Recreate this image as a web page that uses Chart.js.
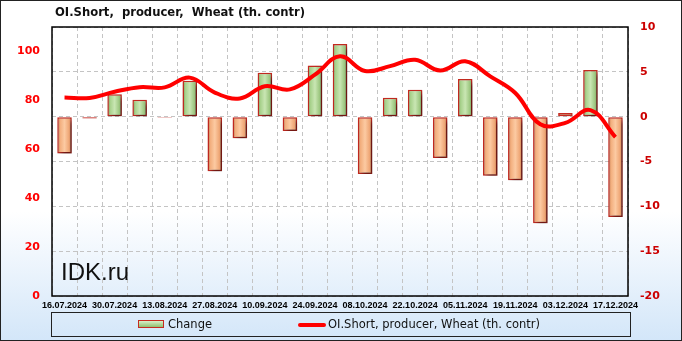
<!DOCTYPE html>
<html lang="en">
<head>
<meta charset="UTF-8">
<title>OI.Short, producer, Wheat</title>
<style>
  html, body { margin: 0; padding: 0; }
  body {
    width: 682px; height: 341px; overflow: hidden;
    background: linear-gradient(to bottom, #ffffff 0%, #ffffff 62%, #d3e6f9 100%);
    font-family: "DejaVu Sans", sans-serif;
  }
  #wrap {
    position: relative; width: 680px; height: 339px;
    border: 1px solid #222;
  }
  canvas { position: absolute; left: -1px; top: -1px; }
  #title {
    position: absolute; left: 54px; top: 4px;
    font: bold 11.6px "DejaVu Sans", sans-serif; white-space: pre; color: #111;
  }
  #brand {
    position: absolute; left: 60px; top: 257px;
    font: 24px "Liberation Sans", Arial, sans-serif; color: #111;
  }
  #legend {
    position: absolute; left: 50px; top: 311px; width: 578px; height: 23px;
    border: 1px solid #222;
    font: 11.5px "DejaVu Sans", sans-serif; color: #111;
  }
  .item { position: absolute; top: 4px; white-space: pre; }
  .sw-bar {
    position: absolute; left: 86px; top: 7px; width: 24px; height: 6px;
    border: 1.5px solid #c62a20;
    background: linear-gradient(to bottom, #d9efc8, #8fbf70);
  }
  .sw-line {
    position: absolute; left: 246px; top: 10px; width: 28px; height: 4px;
    background: #ff0000; border-radius: 2px;
  }
</style>
</head>
<body>
<div id="wrap">
  <canvas id="chart" width="682" height="341"></canvas>
  <div id="title">OI.Short,  producer,  Wheat (th. contr)</div>
  <div id="brand">IDK.ru</div>
  <div id="legend">
    <span class="sw-bar"></span><span class="item" style="left:116px">Change</span>
    <span class="sw-line"></span><span class="item" style="left:276px">OI.Short, producer, Wheat (th. contr)</span>
  </div>
</div>

<script src="https://cdn.jsdelivr.net/npm/chart.js"></script>
<script>
  // report dates (weekly)
  const dates = ['16.07.2024','23.07.2024','30.07.2024','06.08.2024','13.08.2024','20.08.2024',
                 '27.08.2024','03.09.2024','10.09.2024','17.09.2024','24.09.2024','01.10.2024',
                 '08.10.2024','15.10.2024','22.10.2024','29.10.2024','05.11.2024','12.11.2024',
                 '19.11.2024','26.11.2024','03.12.2024','10.12.2024','17.12.2024'];

  // weekly change (right axis)
  const changeValues = [-4.1, -0.2, 2.5, 1.9, -0.1, 4.0, -6.1, -2.4, 4.9, -1.6, 5.7, 8.1,
                        -6.4, 2.1, 3.0, -4.6, 4.2, -6.6, -7.1, -11.9, 0.4, 5.2, -11.2];

  // open interest short, producer (left axis)
  const oiValues = [81.2, 81.0, 83.5, 85.4, 85.3, 89.3, 83.2, 80.8, 85.8, 84.5, 90.5, 98.0,
                    92.0, 94.0, 96.6, 92.2, 96.0, 89.8, 83.0, 70.2, 70.8, 76.0, 65.0];

  const leftTicks  = { min: 0, max: 110, step: 20, shownMax: 100 };
  const rightTicks = { min: -20, max: 10, step: 5 };

  function barFill(c) {
    const el = c.element;
    const pos = c.raw >= 0;
    if (!el || !isFinite(el.x) || !el.width) return pos ? '#a9d18e' : '#f4b183';
    const x0 = el.x - el.width / 2, x1 = el.x + el.width / 2;
    const g = c.chart.ctx.createLinearGradient(x0, 0, x1, 0);
    if (pos) {
      g.addColorStop(0, '#5f8a45');
      g.addColorStop(0.18, '#a6d08a');
      g.addColorStop(0.5, '#c9e6b3');
      g.addColorStop(0.82, '#9cc67f');
      g.addColorStop(1, '#6c9652');
    } else {
      g.addColorStop(0, '#9a5a38');
      g.addColorStop(0.18, '#f2ad7c');
      g.addColorStop(0.5, '#fccaa2');
      g.addColorStop(0.82, '#eea574');
      g.addColorStop(1, '#a8643f');
    }
    return g;
  }

  // shadow under the bars + frame around the plot
  const decor = {
    id: 'decor',
    beforeDatasetDraw(chart, args) {
      if (args.meta.type !== 'bar') return;
      const ctx = chart.ctx;
      ctx.save();
      ctx.shadowColor = 'rgba(0,0,0,0.55)';
      ctx.shadowBlur = 5;
      ctx.shadowOffsetX = 3;
      ctx.shadowOffsetY = 3;
    },
    afterDatasetDraw(chart, args) {
      if (args.meta.type === 'bar') chart.ctx.restore();
    },
    afterDraw(chart) {
      const { ctx, chartArea: a } = chart;
      ctx.save();
      ctx.strokeStyle = '#000';
      ctx.lineWidth = 1.5;
      ctx.strokeRect(a.left, a.top, a.right - a.left, a.bottom - a.top);
      ctx.restore();
    }
  };

  const chart = new Chart(document.getElementById('chart'), {
    data: {
      labels: dates,
      datasets: [
        {
          type: 'line',
          label: 'OI.Short, producer, Wheat (th. contr)',
          data: oiValues,
          yAxisID: 'y',
          borderColor: '#ff0000',
          borderWidth: 4,
          tension: 0.4,
          pointRadius: 0,
          order: 0
        },
        {
          type: 'bar',
          label: 'Change',
          data: changeValues,
          yAxisID: 'y1',
          backgroundColor: barFill,
          borderColor: '#c62a20',
          borderWidth: 1.5,
          borderSkipped: false,
          barPercentage: 0.58,
          categoryPercentage: 1,
          minBarLength: 1,
          order: 1
        }
      ]
    },
    options: {
      responsive: false,
      devicePixelRatio: 1,
      animation: false,
      layout: { padding: { top: 27, left: 0, right: 0, bottom: 0 } },
      plugins: { legend: { display: false }, tooltip: { enabled: false } },
      scales: {
        x: {
          offset: true,
          grid: { color: '#c4c4c4', offset: true, drawTicks: false },
          border: { display: false, dash: [4, 3] },
          ticks: {
            autoSkip: false, maxRotation: 0, minRotation: 0, padding: 4,
            color: '#000',
            font: { family: 'Liberation Sans', weight: 'bold', size: 9 },
            callback: (v, i) => i % 2 === 0 ? dates[i] : ''
          },
          afterFit: s => { s.height = 45; }
        },
        y: {
          position: 'left',
          min: leftTicks.min, max: leftTicks.max,
          grid: { display: false, drawTicks: false },
          border: { display: false },
          ticks: {
            stepSize: leftTicks.step, padding: 12, color: '#ff0000',
            font: { family: 'DejaVu Sans', weight: 'bold', size: 11 },
            callback: v => v > leftTicks.shownMax ? '' : v
          },
          afterFit: s => { s.width = 52; }
        },
        y1: {
          position: 'right',
          min: rightTicks.min, max: rightTicks.max,
          grid: { color: '#c4c4c4', drawTicks: false },
          border: { display: false, dash: [4, 3] },
          ticks: {
            stepSize: rightTicks.step, padding: 12, color: '#cc0000',
            font: { family: 'DejaVu Sans', weight: 'bold', size: 11 }
          },
          afterFit: s => { s.width = 54; }
        }
      }
    },
    plugins: [decor]
  });
  // second pass so the bar gradients know each bar's position
  chart.update('none');
</script>
</body>
</html>
